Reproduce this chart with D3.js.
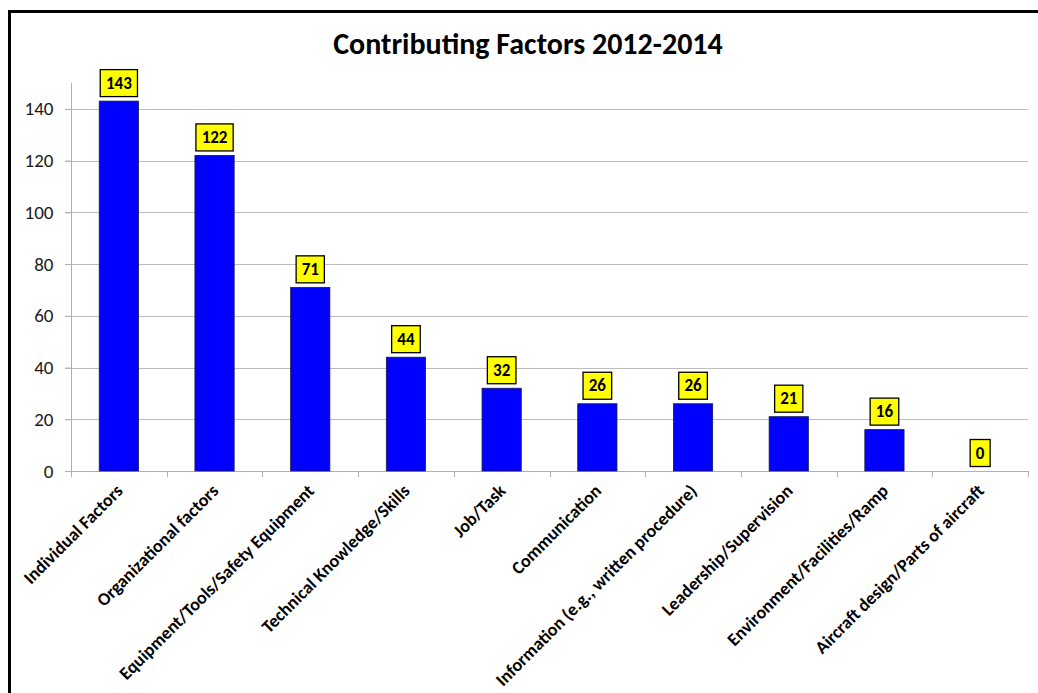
<!DOCTYPE html>
<html>
<head>
<meta charset="utf-8">
<script src="https://cdn.jsdelivr.net/npm/d3@7"></script>
<style>
  body { margin: 0; background: #fff; }
  svg { display: block; font-family: Carlito, Calibri, Lato, sans-serif; }
</style>
</head>
<body>
<svg id="chart"></svg>
<script>
// chart data
const categories = [
    "Individual Factors",
    "Organizational factors",
    "Equipment/Tools/Safety Equipment",
    "Technical Knowledge/Skills",
    "Job/Task",
    "Communication",
    "Information (e.g., written procedure)",
    "Leadership/Supervision",
    "Environment/Facilities/Ramp",
    "Aircraft design/Parts of aircraft"
];
const counts = [143, 122, 71, 44, 32, 26, 26, 21, 16, 0];
const yTicks = [0, 20, 40, 60, 80, 100, 120, 140];
const chartTitle = "Contributing Factors 2012-2014";

const width = 1038, height = 693;
const margin = { top: 83, right: 10, bottom: 222, left: 71 };
const plotRight = 1028;

const svg = d3.select("#chart")
    .attr("width", width)
    .attr("height", height);

// outer frame
svg.append("rect")
    .attr("x", 9.5)
    .attr("y", 11.5)
    .attr("width", width + 10)
    .attr("height", height + 10)
    .attr("fill", "none")
    .attr("stroke", "#000")
    .attr("stroke-width", 3);

const data = categories.map((c, i) => ({ name: c, value: counts[i] }));

const x = d3.scaleBand()
    .domain(categories)
    .range([margin.left, plotRight])
    .padding(0);

const y = d3.scaleLinear()
    .domain([0, 150])
    .range([height - margin.bottom, margin.top]);

const barW = x.bandwidth() * 0.41;

// gridlines
svg.append("g")
    .selectAll("line")
    .data(yTicks.filter(d => d > 0))
    .enter().append("line")
    .attr("x1", margin.left - 6)
    .attr("x2", plotRight)
    .attr("y1", d => Math.round(y(d)) + 0.5)
    .attr("y2", d => Math.round(y(d)) + 0.5)
    .attr("stroke", "#bdbdbd")
    .attr("stroke-width", 1);

// y axis
const yAxis = d3.axisLeft(y)
    .tickValues(yTicks)
    .tickSize(6)
    .tickPadding(12);

const yG = svg.append("g")
    .attr("transform", `translate(${margin.left + 0.5},0)`)
    .call(yAxis);
yG.select(".domain").attr("stroke", "#b0b0b0").attr("d", `M-0,${y(150)}V${y(0)}`);
yG.selectAll(".tick line").attr("stroke", "#b0b0b0");
yG.selectAll(".tick text")
    .style("font-size", "19px")
    .style("font-family", "Carlito, Calibri, Lato, sans-serif")
    .attr("fill", "#1a1a1a");

// x axis
const xAxis = d3.axisBottom(x)
    .tickSize(0)
    .tickFormat("");
const xG = svg.append("g")
    .attr("transform", `translate(0,${Math.round(y(0)) + 0.5})`)
    .call(xAxis);
xG.select(".domain").attr("stroke", "#b0b0b0").attr("d", `M${margin.left - 6},0H${plotRight}`);

// category boundary ticks
svg.append("g")
    .selectAll("line")
    .data(categories.concat(["__end"]))
    .enter().append("line")
    .attr("x1", (d, i) => Math.round(margin.left + i * x.step()) + 0.5)
    .attr("x2", (d, i) => Math.round(margin.left + i * x.step()) + 0.5)
    .attr("y1", y(0))
    .attr("y2", y(0) + 6)
    .attr("stroke", "#b0b0b0");

// bars
svg.append("g")
    .selectAll("rect")
    .data(data.filter(d => d.value > 0))
    .enter().append("rect")
    .attr("x", d => x(d.name) + (x.bandwidth() - barW) / 2)
    .attr("y", d => y(d.value))
    .attr("width", barW)
    .attr("height", d => y(0) - y(d.value))
    .attr("fill", "#0000ff")
    .attr("stroke", "#1a1a4a")
    .attr("stroke-width", 0.8);

// value labels
const labels = svg.append("g")
    .selectAll("g")
    .data(data)
    .enter().append("g")
    .attr("transform", d => `translate(${x(d.name) + x.bandwidth() / 2},${y(d.value) - 4.5})`);

labels.append("text")
    .attr("text-anchor", "middle")
    .attr("y", -8)
    .style("font-size", "17px")
    .style("font-weight", "bold")
    .attr("fill", "#000")
    .text(d => d.value);

labels.each(function() {
    const g = d3.select(this);
    const bb = g.select("text").node().getBBox();
    const w = bb.width + 11, h = 27;
    g.insert("rect", "text")
        .attr("x", -w / 2)
        .attr("y", -h)
        .attr("width", w)
        .attr("height", h)
        .attr("fill", "#ffff00")
        .attr("stroke", "#000")
        .attr("stroke-width", 1.3);
});

// category labels
svg.append("g")
    .selectAll("text")
    .data(categories)
    .enter().append("text")
    .attr("transform", d => `translate(${x(d) + x.bandwidth() / 2 + 5},${y(0) + 21}) rotate(-45)`)
    .attr("text-anchor", "end")
    .style("font-size", "18px")
    .style("font-weight", "bold")
    .attr("fill", "#000")
    .text(d => d);

// title
svg.append("text")
    .attr("x", 528)
    .attr("y", 53.5)
    .attr("text-anchor", "middle")
    .style("font-size", "30px")
    .style("font-weight", "bold")
    .attr("fill", "#000")
    .text(chartTitle);
</script>
</body>
</html>
